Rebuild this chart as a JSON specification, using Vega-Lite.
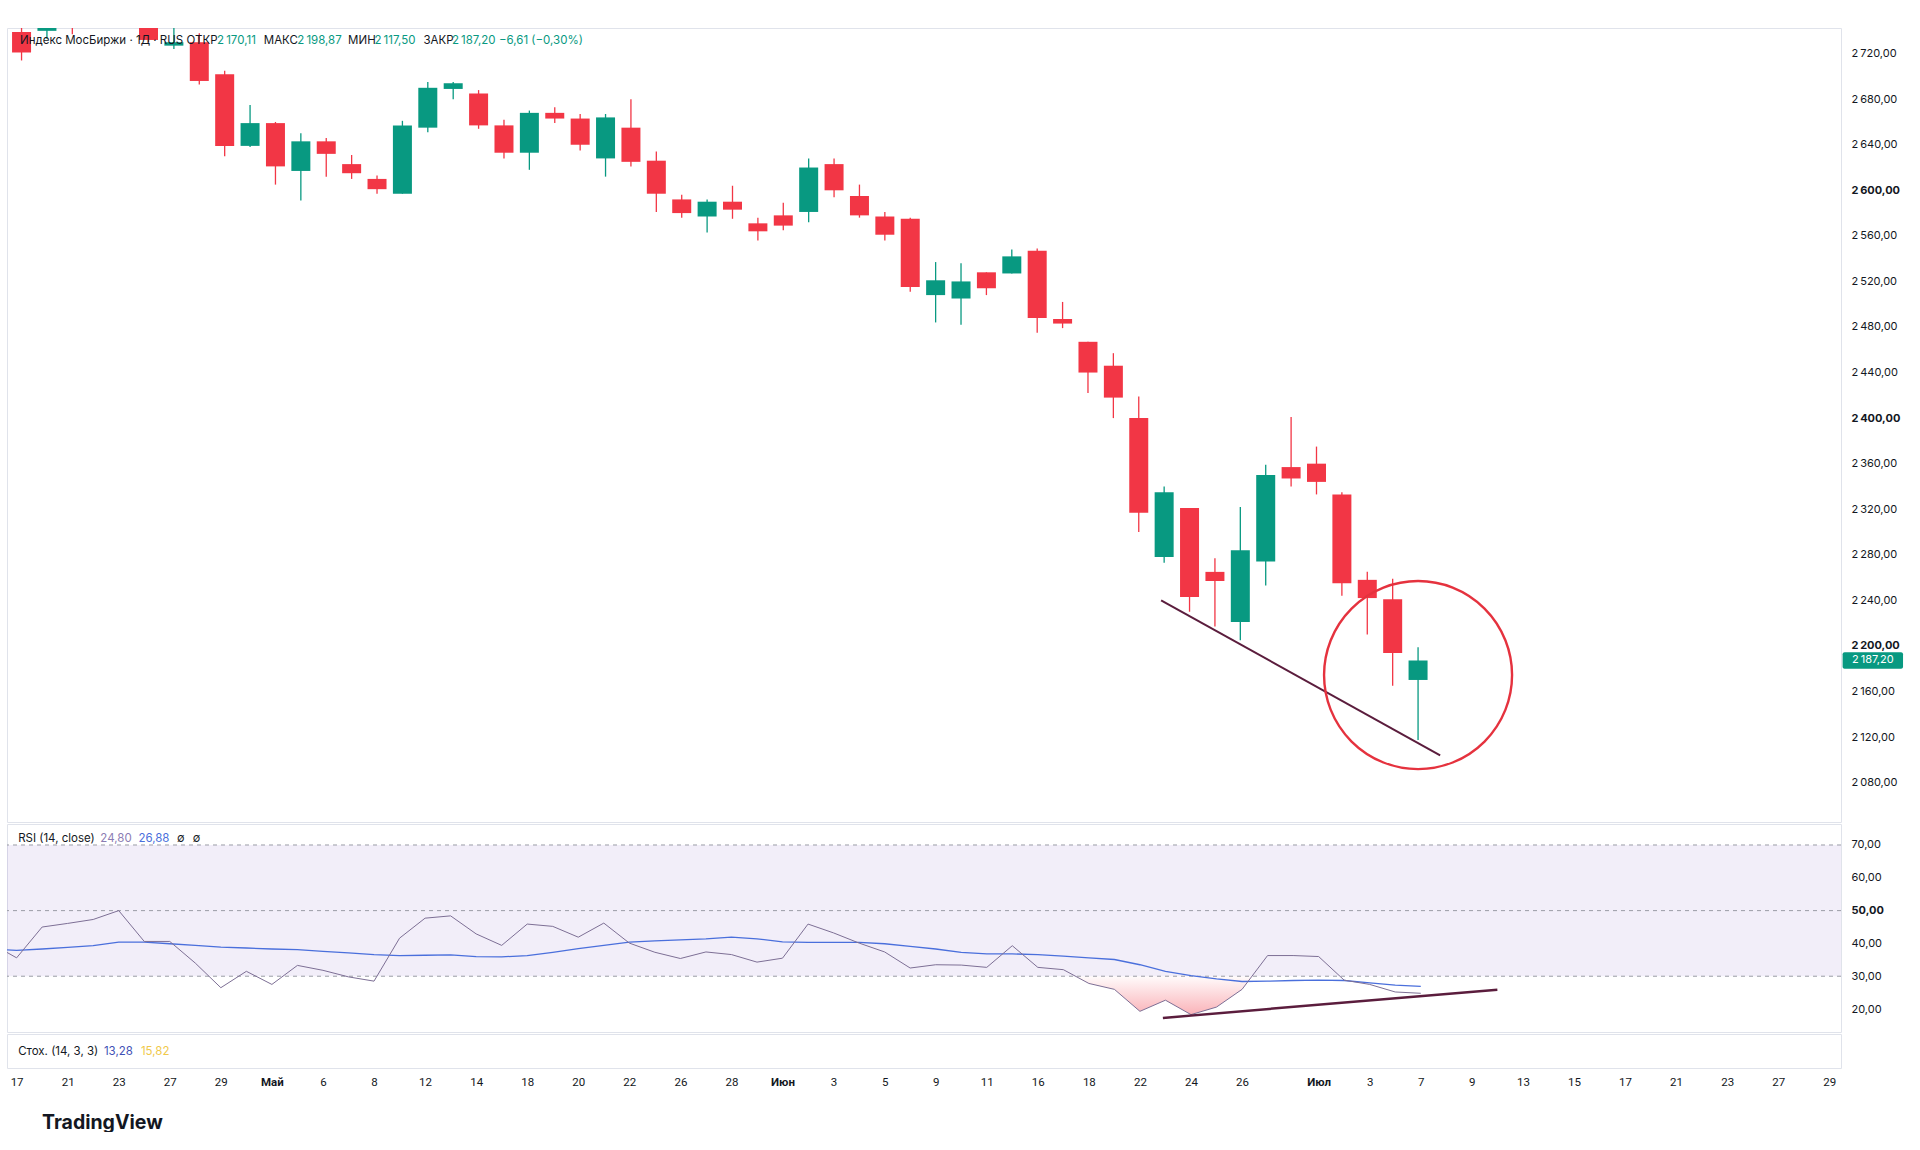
{
  "$schema": "https://vega.github.io/schema/vega-lite/v6.json",
  "background": "white",
  "padding": {"left": 6, "top": 27, "right": 0, "bottom": 0},
  "spacing": 0,
  "title": {"text": "TradingView", "orient": "bottom", "anchor": "start", "fontSize": 19.5, "font": "Inter", "fontWeight": 700, "color": "#131722", "offset": 19, "dx": 36},
  "datasets": {
    "ohlc": [
      {"i": 0, "o": 2739, "h": 2750, "l": 2714, "c": 2721},
      {"i": 1, "o": 2740, "h": 2765, "l": 2733, "c": 2758},
      {"i": 2, "o": 2762, "h": 2770, "l": 2737, "c": 2752},
      {"i": 3, "o": 2752, "h": 2772, "l": 2746, "c": 2766},
      {"i": 4, "o": 2766, "h": 2775, "l": 2750, "c": 2756},
      {"i": 5, "o": 2756, "h": 2760, "l": 2730, "c": 2732},
      {"i": 6, "o": 2727, "h": 2748, "l": 2724, "c": 2730},
      {"i": 7, "o": 2730, "h": 2738, "l": 2693, "c": 2696},
      {"i": 8, "o": 2702, "h": 2705, "l": 2630, "c": 2639},
      {"i": 9, "o": 2639, "h": 2675, "l": 2638, "c": 2659},
      {"i": 10, "o": 2659, "h": 2660, "l": 2605, "c": 2621},
      {"i": 11, "o": 2617, "h": 2650, "l": 2591, "c": 2643},
      {"i": 12, "o": 2643, "h": 2646, "l": 2612, "c": 2632},
      {"i": 13, "o": 2623, "h": 2631, "l": 2610, "c": 2615},
      {"i": 14, "o": 2610, "h": 2613, "l": 2597, "c": 2601},
      {"i": 15, "o": 2597, "h": 2661, "l": 2597, "c": 2657},
      {"i": 16, "o": 2655, "h": 2695, "l": 2651, "c": 2690},
      {"i": 17, "o": 2689, "h": 2695, "l": 2680, "c": 2694},
      {"i": 18, "o": 2685, "h": 2688, "l": 2654, "c": 2657},
      {"i": 19, "o": 2657, "h": 2662, "l": 2628, "c": 2633},
      {"i": 20, "o": 2633, "h": 2670, "l": 2618, "c": 2668},
      {"i": 21, "o": 2668, "h": 2673, "l": 2659, "c": 2663},
      {"i": 22, "o": 2663, "h": 2667, "l": 2635, "c": 2640},
      {"i": 23, "o": 2628, "h": 2667, "l": 2612, "c": 2664},
      {"i": 24, "o": 2655, "h": 2680, "l": 2621, "c": 2625},
      {"i": 25, "o": 2626, "h": 2634, "l": 2581, "c": 2597},
      {"i": 26, "o": 2592, "h": 2596, "l": 2576, "c": 2580},
      {"i": 27, "o": 2577, "h": 2592, "l": 2563, "c": 2590},
      {"i": 28, "o": 2590, "h": 2604, "l": 2575, "c": 2583},
      {"i": 29, "o": 2571, "h": 2576, "l": 2556, "c": 2564},
      {"i": 30, "o": 2578, "h": 2589, "l": 2565, "c": 2569},
      {"i": 31, "o": 2581, "h": 2628, "l": 2572, "c": 2620},
      {"i": 32, "o": 2623, "h": 2628, "l": 2594, "c": 2600},
      {"i": 33, "o": 2595, "h": 2605, "l": 2576, "c": 2578},
      {"i": 34, "o": 2577, "h": 2581, "l": 2556, "c": 2561},
      {"i": 35, "o": 2575, "h": 2576, "l": 2511, "c": 2515},
      {"i": 36, "o": 2508, "h": 2537, "l": 2484, "c": 2521},
      {"i": 37, "o": 2505, "h": 2536, "l": 2482, "c": 2520},
      {"i": 38, "o": 2528, "h": 2528, "l": 2508, "c": 2514},
      {"i": 39, "o": 2527, "h": 2548, "l": 2527, "c": 2542},
      {"i": 40, "o": 2547, "h": 2549, "l": 2475, "c": 2488},
      {"i": 41, "o": 2487, "h": 2502, "l": 2479, "c": 2483},
      {"i": 42, "o": 2467, "h": 2467, "l": 2422, "c": 2440},
      {"i": 43, "o": 2446, "h": 2457, "l": 2400, "c": 2418},
      {"i": 44, "o": 2400, "h": 2419, "l": 2300, "c": 2317},
      {"i": 45, "o": 2278, "h": 2340, "l": 2273, "c": 2335},
      {"i": 46, "o": 2321, "h": 2321, "l": 2230, "c": 2243},
      {"i": 47, "o": 2265, "h": 2277, "l": 2217, "c": 2257},
      {"i": 48, "o": 2221, "h": 2322, "l": 2205, "c": 2284},
      {"i": 49, "o": 2274, "h": 2359, "l": 2253, "c": 2350},
      {"i": 50, "o": 2357, "h": 2401, "l": 2340, "c": 2347},
      {"i": 51, "o": 2360, "h": 2375, "l": 2333, "c": 2344},
      {"i": 52, "o": 2333, "h": 2335, "l": 2244, "c": 2255},
      {"i": 53, "o": 2258, "h": 2265, "l": 2210, "c": 2242},
      {"i": 54, "o": 2241, "h": 2259, "l": 2165, "c": 2193.81},
      {"i": 55, "o": 2170.11, "h": 2198.87, "l": 2117.5, "c": 2187.2}
    ],
    "rsi": [
      {"i": -1, "rsi": 40.0, "ma": 38.2},
      {"i": 0, "rsi": 35.6, "ma": 37.9},
      {"i": 1, "rsi": 45.0, "ma": 38.3},
      {"i": 2, "rsi": 46.1, "ma": 38.8},
      {"i": 3, "rsi": 47.3, "ma": 39.3},
      {"i": 4, "rsi": 50.0, "ma": 40.4},
      {"i": 5, "rsi": 40.6, "ma": 40.4},
      {"i": 6, "rsi": 40.6, "ma": 39.9},
      {"i": 7, "rsi": 34.0, "ma": 39.4},
      {"i": 8, "rsi": 26.5, "ma": 38.9},
      {"i": 9, "rsi": 31.5, "ma": 38.6},
      {"i": 10, "rsi": 27.5, "ma": 38.3},
      {"i": 11, "rsi": 33.3, "ma": 38.1},
      {"i": 12, "rsi": 31.8, "ma": 37.6},
      {"i": 13, "rsi": 29.8, "ma": 37.1},
      {"i": 14, "rsi": 28.5, "ma": 36.6},
      {"i": 15, "rsi": 41.6, "ma": 36.3},
      {"i": 16, "rsi": 47.7, "ma": 36.4},
      {"i": 17, "rsi": 48.4, "ma": 36.5},
      {"i": 18, "rsi": 42.9, "ma": 36.0},
      {"i": 19, "rsi": 39.4, "ma": 35.9},
      {"i": 20, "rsi": 45.9, "ma": 36.3},
      {"i": 21, "rsi": 45.2, "ma": 37.3},
      {"i": 22, "rsi": 41.9, "ma": 38.4},
      {"i": 23, "rsi": 46.2, "ma": 39.4},
      {"i": 24, "rsi": 40.1, "ma": 40.4},
      {"i": 25, "rsi": 37.3, "ma": 40.8},
      {"i": 26, "rsi": 35.4, "ma": 41.1},
      {"i": 27, "rsi": 37.4, "ma": 41.4},
      {"i": 28, "rsi": 36.6, "ma": 41.9},
      {"i": 29, "rsi": 34.3, "ma": 41.4},
      {"i": 30, "rsi": 35.5, "ma": 40.5},
      {"i": 31, "rsi": 45.9, "ma": 40.3},
      {"i": 32, "rsi": 43.2, "ma": 40.3},
      {"i": 33, "rsi": 40.1, "ma": 40.3},
      {"i": 34, "rsi": 37.4, "ma": 39.9},
      {"i": 35, "rsi": 32.5, "ma": 39.1},
      {"i": 36, "rsi": 33.5, "ma": 38.3},
      {"i": 37, "rsi": 33.4, "ma": 37.3},
      {"i": 38, "rsi": 32.7, "ma": 36.8},
      {"i": 39, "rsi": 39.3, "ma": 36.8},
      {"i": 40, "rsi": 32.7, "ma": 36.6},
      {"i": 41, "rsi": 32.0, "ma": 36.1},
      {"i": 42, "rsi": 27.8, "ma": 35.6},
      {"i": 43, "rsi": 26.0, "ma": 35.1},
      {"i": 44, "rsi": 19.3, "ma": 33.5},
      {"i": 45, "rsi": 22.7, "ma": 31.5},
      {"i": 46, "rsi": 18.3, "ma": 30.2},
      {"i": 47, "rsi": 20.6, "ma": 29.2},
      {"i": 48, "rsi": 26.0, "ma": 28.4},
      {"i": 49, "rsi": 36.3, "ma": 28.5},
      {"i": 50, "rsi": 36.3, "ma": 28.7},
      {"i": 51, "rsi": 36.0, "ma": 28.8},
      {"i": 52, "rsi": 28.8, "ma": 28.7},
      {"i": 53, "rsi": 27.5, "ma": 28.0},
      {"i": 54, "rsi": 25.2, "ma": 27.3},
      {"i": 55, "rsi": 24.8, "ma": 26.88}
    ],
    "oversold": [
      {"i": 41.48, "r": 30},
      {"i": 42, "r": 27.8},
      {"i": 43, "r": 26.0},
      {"i": 44, "r": 19.3},
      {"i": 45, "r": 22.7},
      {"i": 46, "r": 18.3},
      {"i": 47, "r": 20.6},
      {"i": 48, "r": 26.0},
      {"i": 48.39, "r": 30}
    ],
    "trendPrice": [{"i": 44.88, "p": 2240}, {"i": 55.87, "p": 2104}],
    "trendRsi": [{"i": 44.9, "r": 17.3}, {"i": 58.0, "r": 25.9}],
    "circle": [{"i": 55.0, "p": 2174.4}]
  },
  "vconcat": [
    {
      "width": 1834,
      "height": 794,
      "layer": [
        {
          "data": {"name": "ohlc"},
          "mark": {"type": "rule", "clip": true, "strokeWidth": 1.3},
          "encoding": {
            "x": {"field": "i", "type": "quantitative", "scale": {"domain": [-0.376, 71.46], "nice": false, "zero": false}, "axis": null},
            "y": {"field": "l", "type": "quantitative", "scale": {"domain": [2045.4, 2742.5], "nice": false, "zero": false},
              "axis": {"orient": "right", "title": null, "values": [2080, 2120, 2160, 2200, 2240, 2280, 2320, 2360, 2400, 2440, 2480, 2520, 2560, 2600, 2640, 2680, 2720],
                "labelExpr": "replace(replace(format(datum.value, ',.2f'), ',', '\u2009'), '.', ',')",
                "labelFontWeight": {"condition": {"test": "datum.value % 200 === 0", "value": "bold"}, "value": "normal"},
                "domain": false, "ticks": false, "tickSize": 0, "grid": false, "labelPadding": 10, "labelFont": "Inter", "labelFontSize": 11, "labelColor": "#131722"}},
            "y2": {"field": "h"},
            "color": {"condition": {"test": "datum.c >= datum.o", "value": "#089981"}, "value": "#f23645"}
          }
        },
        {
          "data": {"name": "ohlc"},
          "mark": {"type": "bar", "clip": true, "size": 19},
          "encoding": {
            "x": {"field": "i", "type": "quantitative"},
            "y": {"field": "o", "type": "quantitative", "title": null},
            "y2": {"field": "c"},
            "color": {"condition": {"test": "datum.c >= datum.o", "value": "#089981"}, "value": "#f23645"}
          }
        },
        {
          "data": {"name": "trendPrice"},
          "mark": {"type": "line", "color": "#5b1d3d", "strokeWidth": 2, "clip": true},
          "encoding": {"x": {"field": "i", "type": "quantitative"}, "y": {"field": "p", "type": "quantitative", "title": null}}
        },
        {
          "data": {"name": "circle"},
          "mark": {"type": "point", "shape": "circle", "size": 35344, "filled": false, "color": "#e5323e", "strokeWidth": 2.4, "opacity": 1},
          "encoding": {"x": {"field": "i", "type": "quantitative"}, "y": {"field": "p", "type": "quantitative", "title": null}}
        },
        {
          "data": {"values": [{}]},
          "mark": {"type": "rect", "color": "#089981", "cornerRadius": 2},
          "encoding": {"x": {"datum": 71.72}, "x2": {"datum": 74.1}, "y": {"datum": 2194.5}, "y2": {"datum": 2179.9}}
        },
        {
          "data": {"values": [{}]},
          "mark": {"type": "text", "text": "2\u2009187,20", "color": "white", "font": "Inter", "fontSize": 11, "align": "center", "baseline": "middle"},
          "encoding": {"x": {"datum": 72.91}, "y": {"datum": 2187.2}}
        },
        {
          "data": {"values": [{}]},
          "mark": {"type": "text", "text": "Индекс МосБиржи · 1Д · RUS", "color": "#131722", "font": "Inter", "fontSize": 11.5, "align": "left", "baseline": "middle"},
          "encoding": {"x": {"datum": -0.06}, "y": {"datum": 2731}}
        },
        {
          "data": {"values": [{}]},
          "mark": {"type": "text", "text": "ОТКР", "color": "#131722", "font": "Inter", "fontSize": 11.5, "align": "left", "baseline": "middle"},
          "encoding": {"x": {"datum": 6.5}, "y": {"datum": 2731}}
        },
        {
          "data": {"values": [{}]},
          "mark": {"type": "text", "text": "2\u2009170,11", "color": "#089981", "font": "Inter", "fontSize": 11.5, "align": "left", "baseline": "middle"},
          "encoding": {"x": {"datum": 7.7}, "y": {"datum": 2731}}
        },
        {
          "data": {"values": [{}]},
          "mark": {"type": "text", "text": "МАКС", "color": "#131722", "font": "Inter", "fontSize": 11.5, "align": "left", "baseline": "middle"},
          "encoding": {"x": {"datum": 9.54}, "y": {"datum": 2731}}
        },
        {
          "data": {"values": [{}]},
          "mark": {"type": "text", "text": "2\u2009198,87", "color": "#089981", "font": "Inter", "fontSize": 11.5, "align": "left", "baseline": "middle"},
          "encoding": {"x": {"datum": 10.86}, "y": {"datum": 2731}}
        },
        {
          "data": {"values": [{}]},
          "mark": {"type": "text", "text": "МИН", "color": "#131722", "font": "Inter", "fontSize": 11.5, "align": "left", "baseline": "middle"},
          "encoding": {"x": {"datum": 12.86}, "y": {"datum": 2731}}
        },
        {
          "data": {"values": [{}]},
          "mark": {"type": "text", "text": "2\u2009117,50", "color": "#089981", "font": "Inter", "fontSize": 11.5, "align": "left", "baseline": "middle"},
          "encoding": {"x": {"datum": 13.9}, "y": {"datum": 2731}}
        },
        {
          "data": {"values": [{}]},
          "mark": {"type": "text", "text": "ЗАКР", "color": "#131722", "font": "Inter", "fontSize": 11.5, "align": "left", "baseline": "middle"},
          "encoding": {"x": {"datum": 15.83}, "y": {"datum": 2731}}
        },
        {
          "data": {"values": [{}]},
          "mark": {"type": "text", "text": "2\u2009187,20", "color": "#089981", "font": "Inter", "fontSize": 11.5, "align": "left", "baseline": "middle"},
          "encoding": {"x": {"datum": 16.95}, "y": {"datum": 2731}}
        },
        {
          "data": {"values": [{}]},
          "mark": {"type": "text", "text": "−6,61 (−0,30%)", "color": "#089981", "font": "Inter", "fontSize": 11.5, "align": "left", "baseline": "middle"},
          "encoding": {"x": {"datum": 18.8}, "y": {"datum": 2731}}
        }
      ]
    },
    {
      "width": 1834,
      "height": 208,
      "layer": [
        {
          "data": {"values": [{}]},
          "mark": {"type": "rect", "color": "#7e57c2", "opacity": 0.1},
          "encoding": {
            "x": {"datum": -0.376, "type": "quantitative", "scale": {"domain": [-0.376, 71.46], "nice": false, "zero": false}, "axis": null},
            "x2": {"datum": 71.46},
            "y": {"datum": 30, "type": "quantitative", "scale": {"domain": [13, 76.4], "nice": false, "zero": false},
              "axis": {"orient": "right", "title": null, "values": [20, 30, 40, 50, 60, 70],
                "labelExpr": "replace(format(datum.value, '.2f'), '.', ',')",
                "labelFontWeight": {"condition": {"test": "datum.value === 50", "value": "bold"}, "value": "normal"},
                "domain": false, "ticks": false, "tickSize": 0, "grid": false, "labelPadding": 10, "labelFont": "Inter", "labelFontSize": 11, "labelColor": "#131722"}},
            "y2": {"datum": 70}
          }
        },
        {
          "data": {"values": [{}]},
          "mark": {"type": "rule", "color": "#9a9da6", "strokeDash": [4, 4], "strokeWidth": 1},
          "encoding": {"y": {"datum": 70}}
        },
        {
          "data": {"values": [{}]},
          "mark": {"type": "rule", "color": "#9a9da6", "strokeDash": [4, 4], "strokeWidth": 1},
          "encoding": {"y": {"datum": 50}}
        },
        {
          "data": {"values": [{}]},
          "mark": {"type": "rule", "color": "#9a9da6", "strokeDash": [4, 4], "strokeWidth": 1},
          "encoding": {"y": {"datum": 30}}
        },
        {
          "data": {"name": "oversold"},
          "mark": {"type": "area", "clip": true, "color": {"gradient": "linear", "x1": 0, "y1": 0, "x2": 0, "y2": 1, "stops": [{"offset": 0, "color": "rgba(242,54,69,0.02)"}, {"offset": 1, "color": "rgba(242,54,69,0.38)"}]}},
          "encoding": {"x": {"field": "i", "type": "quantitative"}, "y": {"field": "r", "type": "quantitative", "title": null}, "y2": {"datum": 30}}
        },
        {
          "data": {"name": "rsi"},
          "mark": {"type": "line", "color": "#4a6fdc", "strokeWidth": 1.3, "clip": true},
          "encoding": {"x": {"field": "i", "type": "quantitative"}, "y": {"field": "ma", "type": "quantitative", "title": null}}
        },
        {
          "data": {"name": "rsi"},
          "mark": {"type": "line", "color": "#7d6f95", "strokeWidth": 1, "clip": true},
          "encoding": {"x": {"field": "i", "type": "quantitative"}, "y": {"field": "rsi", "type": "quantitative", "title": null}}
        },
        {
          "data": {"name": "trendRsi"},
          "mark": {"type": "line", "color": "#5b1d3d", "strokeWidth": 2.5, "clip": true},
          "encoding": {"x": {"field": "i", "type": "quantitative"}, "y": {"field": "r", "type": "quantitative", "title": null}}
        },
        {
          "data": {"values": [{}]},
          "mark": {"type": "text", "text": "RSI (14, close)", "color": "#131722", "font": "Inter", "fontSize": 11.5, "align": "left", "baseline": "middle"},
          "encoding": {"x": {"datum": 0.06}, "y": {"datum": 71.8}}
        },
        {
          "data": {"values": [{}]},
          "mark": {"type": "text", "text": "24,80", "color": "#8b7cb3", "font": "Inter", "fontSize": 11.5, "align": "left", "baseline": "middle"},
          "encoding": {"x": {"datum": 3.28}, "y": {"datum": 71.8}}
        },
        {
          "data": {"values": [{}]},
          "mark": {"type": "text", "text": "26,88", "color": "#4a6fdc", "font": "Inter", "fontSize": 11.5, "align": "left", "baseline": "middle"},
          "encoding": {"x": {"datum": 4.77}, "y": {"datum": 71.8}}
        },
        {
          "data": {"values": [{}]},
          "mark": {"type": "text", "text": "∅", "color": "#131722", "font": "Inter", "fontSize": 11, "align": "left", "baseline": "middle"},
          "encoding": {"x": {"datum": 6.28}, "y": {"datum": 71.8}}
        },
        {
          "data": {"values": [{}]},
          "mark": {"type": "text", "text": "∅", "color": "#131722", "font": "Inter", "fontSize": 11, "align": "left", "baseline": "middle"},
          "encoding": {"x": {"datum": 6.9}, "y": {"datum": 71.8}}
        }
      ]
    },
    {
      "width": 1834,
      "height": 34,
      "layer": [
        {
          "data": {"values": [{}]},
          "mark": {"type": "text", "text": "Стох. (14, 3, 3)", "color": "#131722", "font": "Inter", "fontSize": 11.5, "align": "left", "baseline": "middle"},
          "encoding": {
            "x": {"datum": 0.06, "type": "quantitative", "scale": {"domain": [-0.376, 71.46], "nice": false, "zero": false},
              "axis": {"title": null, "values": [0, 2, 4, 6, 8, 10, 12, 14, 16, 18, 20, 22, 24, 26, 28, 30, 32, 34, 36, 38, 40, 42, 44, 46, 48, 51, 53, 55, 57, 59, 61, 63, 65, 67, 69, 71],
                "labelExpr": "['17','','21','','23','','27','','29','','Май','','6','','8','','12','','14','','18','','20','','22','','26','','28','','Июн','','3','','5','','9','','11','','16','','18','','22','','24','','26','','','Июл','','3','','7','','9','','13','','15','','17','','21','','23','','27','','29'][datum.value]",
                "labelFontWeight": {"condition": {"test": "datum.value === 10 || datum.value === 30 || datum.value === 51", "value": "bold"}, "value": "normal"},
                "domain": false, "ticks": false, "tickSize": 0, "grid": false, "labelPadding": 8, "labelFont": "Roboto", "labelFontSize": 11.5, "labelColor": "#131722", "labelOverlap": false, "labelBound": false, "labelFlush": false, "minExtent": 26, "maxExtent": 26}},
            "y": {"datum": 0.485, "type": "quantitative", "scale": {"domain": [0, 1], "nice": false, "zero": false}, "axis": null}
          }
        },
        {
          "data": {"values": [{}]},
          "mark": {"type": "text", "text": "13,28", "color": "#3f51b5", "font": "Inter", "fontSize": 11.5, "align": "left", "baseline": "middle"},
          "encoding": {"x": {"datum": 3.42}, "y": {"datum": 0.485}}
        },
        {
          "data": {"values": [{}]},
          "mark": {"type": "text", "text": "15,82", "color": "#f0c94a", "font": "Inter", "fontSize": 11.5, "align": "left", "baseline": "middle"},
          "encoding": {"x": {"datum": 4.87}, "y": {"datum": 0.485}}
        }
      ]
    }
  ],
  "config": {"view": {"stroke": "#e0e3eb"}, "font": "Inter"}
}
